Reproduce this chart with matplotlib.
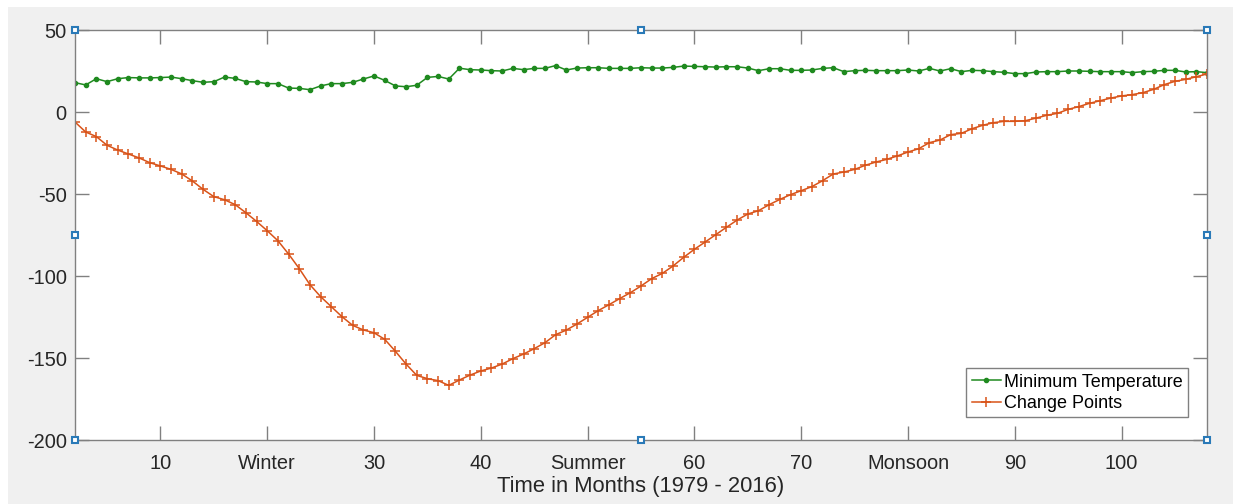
import matplotlib
matplotlib.use('Agg')
import matplotlib.pyplot as plt
from matplotlib.patches import Rectangle

plt.rcParams['font.family'] = ['Liberation Sans', 'DejaVu Sans']
plt.rcParams['axes.unicode_minus'] = False

# months 2..108
months = list(range(2, 109))

min_temp = [
    17.9, 16.5, 20.3, 18.5, 20.3, 21.0, 20.8, 20.8, 21.0, 21.3,
    20.3, 19.1, 18.1, 18.5, 21.3, 20.5, 18.5, 18.3, 17.3, 17.3,
    14.6, 14.4, 13.6, 15.9, 17.3, 17.3, 18.1, 20.1, 22.0, 19.3,
    15.9, 15.4, 16.3, 21.1, 21.7, 20.1, 26.7, 25.8, 25.6, 25.2,
    25.0, 26.6, 25.8, 26.6, 26.6, 28.3, 25.6, 26.8, 27.0, 27.0,
    26.6, 26.6, 26.6, 27.0, 26.8, 26.8, 27.2, 28.0, 27.8, 27.6,
    27.4, 27.6, 27.6, 26.8, 25.2, 26.4, 26.4, 25.4, 25.4, 25.6,
    26.6, 27.0, 24.6, 25.2, 25.4, 25.2, 25.2, 25.2, 25.6, 25.0,
    26.6, 25.0, 26.4, 24.6, 25.4, 25.2, 24.6, 24.2, 23.4, 23.4,
    24.4, 24.6, 24.6, 25.0, 25.0, 24.8, 24.6, 24.6, 24.6, 24.0,
    24.6, 24.8, 25.4, 25.4, 24.4, 24.6, 24.0,
]

change_points = [
    -6.1, -12.2, -15.0, -20.3, -23.2, -25.6, -28.0, -30.9, -32.9, -35.0,
    -37.8, -42.1, -47.2, -51.6, -53.5, -56.5, -61.4, -66.7, -72.4, -78.5,
    -86.6, -95.5, -105.3, -112.6, -118.7, -124.8, -130.1, -132.9, -134.6, -138.6,
    -145.9, -153.7, -160.6, -162.6, -163.8, -166.7, -163.4, -160.4, -157.9, -156.1,
    -153.7, -150.4, -147.6, -144.3, -140.7, -135.8, -133.0, -129.3, -125.2, -121.1,
    -117.5, -113.8, -110.2, -106.1, -101.6, -98.4, -93.9, -88.6, -83.7, -79.3,
    -74.8, -70.3, -65.9, -62.2, -60.2, -56.5, -53.3, -50.4, -48.0, -45.5,
    -41.9, -37.8, -36.6, -35.0, -32.5, -30.5, -28.9, -26.8, -24.4, -22.4,
    -18.7, -17.1, -13.8, -13.0, -10.2, -8.1, -6.5, -5.7, -5.7, -5.3,
    -3.7, -2.0, -0.8, 1.6, 3.3, 5.3, 6.9, 8.5, 9.8, 10.6,
    11.8, 13.8, 16.7, 18.7, 19.9, 21.5, 23.2,
]

xticks = [10, 20, 30, 40, 50, 60, 70, 80, 90, 100]
xticklabels = ['10', 'Winter', '30', '40', 'Summer', '60', '70', 'Monsoon', '90', '100']
yticks = [-200, -150, -100, -50, 0, 50]

fig = plt.figure(figsize=(12.41, 5.04), dpi=100, facecolor='white')
fig.patches.append(Rectangle((8 / 1241, 0), 1225 / 1241, 497 / 504,
                             transform=fig.transFigure, facecolor='#f0f0f0',
                             edgecolor='none', zorder=-10))

ax = fig.add_axes([75 / 1241, 64 / 504, 1132 / 1241, 410 / 504])
ax.set_facecolor('white')

ax.plot(months, min_temp, color='#1f8a1f', lw=1.1, marker='.', ms=6,
        label='Minimum Temperature')
ax.plot(months, change_points, color='#d95319', lw=1.1, marker='+', ms=6.5,
        mew=1.1, label='Change Points')

ax.set_xlim(2, 108)
ax.set_ylim(-200, 50)
ax.set_xticks(xticks)
ax.set_xticklabels(xticklabels)
ax.set_yticks(yticks)

for s in ax.spines.values():
    s.set_color('#808080')
    s.set_linewidth(1.0)
ax.tick_params(direction='in', length=10, width=1.0, color='#808080',
               top=True, right=True, labelsize=14.4, labelcolor='#262626')
ax.tick_params(axis='x', pad=10)
ax.tick_params(axis='y', pad=6)
ax.set_xlabel('Time in Months (1979 - 2016)', fontsize=15.8, color='#262626',
              labelpad=2)

leg = ax.legend(loc='lower right', fontsize=13, handlelength=1.6,
                handletextpad=0.2, borderpad=0.3, labelspacing=0.25,
                fancybox=False, framealpha=1, edgecolor='#808080',
                bbox_to_anchor=(0.9915, 0.033))
leg.get_frame().set_linewidth(1.0)

# figure selection handles
hx = [0, 0.5, 1, 0, 1, 0, 0.5, 1]
hy = [1, 1, 1, 0.5, 0.5, 0, 0, 0]
ax.plot(hx, hy, ls='none', marker='s', ms=5, mfc='white', mec='#2a7ab8',
        mew=1.5, transform=ax.transAxes, clip_on=False, zorder=10)

fig.savefig('out.png', dpi=100, facecolor=fig.get_facecolor())
